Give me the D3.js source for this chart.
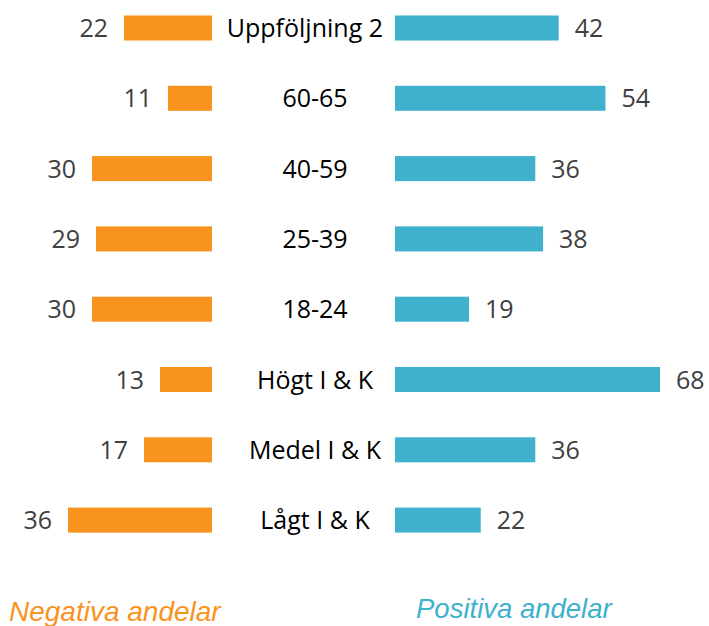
<!DOCTYPE html>
<html>
<head>
<meta charset="utf-8">
<script src="https://cdn.jsdelivr.net/npm/d3@7"></script>
<style>
  body { margin: 0; background: #fff; }
</style>
</head>
<body>
<div id="chart"></div>
<script>
// Data
const categories = ["Uppföljning 2", "60-65", "40-59", "25-39", "18-24", "Högt I & K", "Medel I & K", "Lågt I & K"];
const negativa = [22, 11, 30, 29, 30, 13, 17, 36];
const positiva = [42, 54, 36, 38, 19, 68, 36, 22];
const legendLabels = ["Negativa andelar", "Positiva andelar"];

const width = 709, height = 626;
const orange = "#F7931E", blue = "#3FB1CD";
const leftOrigin = 212, rightOrigin = 395, centerX = 315;

const svg = d3.select("#chart")
    .append("svg")
    .attr("width", width)
    .attr("height", height);

// Rows
const y = d3.scaleBand()
    .domain(categories)
    .range([-5.6, 553.7])
    .paddingInner(0.644)
    .paddingOuter(0.3);

// Bar lengths (the two sides have slightly different scales in the original)
const xNeg = d3.scaleLinear()
    .domain([0, 36])
    .range([0, 144]);

const xPos = d3.scaleLinear()
    .domain([0, 68])
    .range([0, 265]);

const rows = svg.selectAll(".row")
    .data(categories)
    .enter()
    .append("g")
    .attr("class", "row")
    .attr("transform", d => `translate(0,${y(d)})`);

const bh = y.bandwidth();
const labelFont = "'Open Sans', sans-serif";

// Negative bars (to the left)
rows.append("rect")
    .attr("x", (d, i) => leftOrigin - xNeg(negativa[i]))
    .attr("y", 0)
    .attr("width", (d, i) => xNeg(negativa[i]))
    .attr("height", bh)
    .attr("fill", orange);

rows.append("text")
    .attr("x", (d, i) => leftOrigin - xNeg(negativa[i]) - 16)
    .attr("y", bh / 2)
    .attr("dy", "0.36em")
    .attr("text-anchor", "end")
    .style("font-family", labelFont)
    .style("font-size", "25px")
    .attr("fill", "#404040")
    .text((d, i) => negativa[i]);

// Positive bars (to the right)
rows.append("rect")
    .attr("x", rightOrigin)
    .attr("y", 0)
    .attr("width", (d, i) => xPos(positiva[i]))
    .attr("height", bh)
    .attr("fill", blue);

rows.append("text")
    .attr("x", (d, i) => rightOrigin + xPos(positiva[i]) + 16)
    .attr("y", bh / 2)
    .attr("dy", "0.36em")
    .style("font-family", labelFont)
    .style("font-size", "25px")
    .attr("fill", "#404040")
    .text((d, i) => positiva[i]);

// Category labels, centred but kept clear of the blue bars
rows.append("text")
    .attr("y", bh / 2)
    .attr("dy", "0.36em")
    .attr("text-anchor", "middle")
    .style("font-family", labelFont)
    .style("font-size", "25px")
    .attr("fill", "#000")
    .text(d => d)
    .attr("x", function() {
        const w = this.getComputedTextLength();
        return Math.min(centerX, rightOrigin - 12 - w / 2);
    });

// Legend labels
svg.append("text")
    .attr("x", 9)
    .attr("y", 621)
    .style("font-family", "'Liberation Sans', Arial, sans-serif")
    .style("font-style", "italic")
    .style("font-size", "28px")
    .attr("fill", orange)
    .text(legendLabels[0]);

svg.append("text")
    .attr("x", 416)
    .attr("y", 618)
    .style("font-family", "'Liberation Sans', Arial, sans-serif")
    .style("font-style", "italic")
    .style("font-size", "27.5px")
    .attr("fill", blue)
    .text(legendLabels[1]);
</script>
</body>
</html>
